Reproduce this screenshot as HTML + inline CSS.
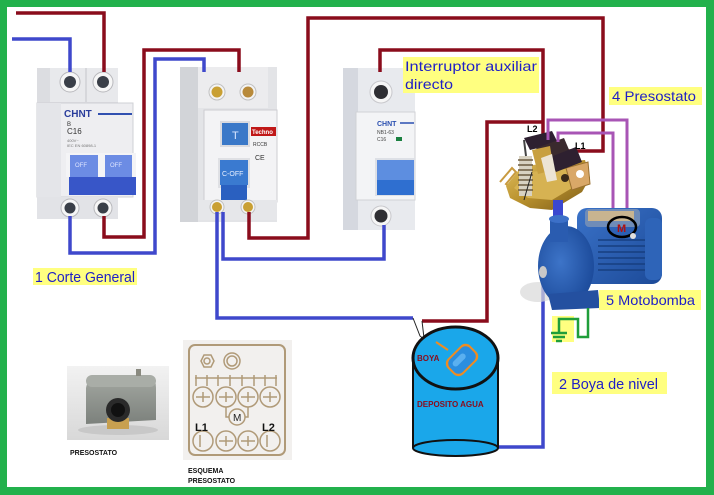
<!DOCTYPE html>
<html><head><meta charset="utf-8"><style>
html,body{margin:0;padding:0;background:#fff;}
svg{display:block;}
text{font-family:"Liberation Sans",sans-serif;}
</style></head><body>
<svg width="714" height="495" viewBox="0 0 714 495" xmlns="http://www.w3.org/2000/svg">
<defs>
<linearGradient id="pumpg" x1="0" y1="0" x2="1" y2="1"><stop offset="0" stop-color="#3a72c8"/><stop offset="1" stop-color="#1c4a98"/></linearGradient>
<radialGradient id="volg" cx="0.4" cy="0.45" r="0.6"><stop offset="0" stop-color="#3d74c8"/><stop offset="1" stop-color="#1d4c9c"/></radialGradient>
<linearGradient id="photog" x1="0" y1="0" x2="0" y2="1"><stop offset="0" stop-color="#f2f2f2"/><stop offset="1" stop-color="#d8d8d8"/></linearGradient>
<linearGradient id="boxg" x1="0" y1="0" x2="0" y2="1"><stop offset="0" stop-color="#a4a8a2"/><stop offset="1" stop-color="#7c817c"/></linearGradient>
<linearGradient id="brass" x1="0" y1="0" x2="1" y2="1"><stop offset="0" stop-color="#e2c060"/><stop offset="0.5" stop-color="#b8902c"/><stop offset="1" stop-color="#7a5a1a"/></linearGradient>
</defs>
<rect width="714" height="495" fill="#22b14c"/>
<rect x="7" y="7" width="699" height="480" fill="#ffffff"/>

<!-- ===== Breaker 1 (CHNT 2-pole) ===== -->
<g>
<rect x="37" y="68" width="81" height="36" fill="#dcdde1"/>
<rect x="50" y="68" width="68" height="34" fill="#e8e9ec"/>
<line x1="86" y1="68" x2="86" y2="102" stroke="#c4c5ca"/>
<circle cx="70" cy="82" r="10" fill="#f6f6f6" stroke="#b8b8bc"/><circle cx="70" cy="82" r="6" fill="#3a3f48"/>
<circle cx="103" cy="82" r="10" fill="#f6f6f6" stroke="#b8b8bc"/><circle cx="103" cy="82" r="6" fill="#3a3f48"/>
<rect x="37" y="103" width="96" height="94" fill="#eeeef1" stroke="#cfd0d5"/>
<rect x="37" y="103" width="24" height="94" fill="#e4e5e9"/>
<text x="64" y="117" font-size="10" font-weight="bold" fill="#2a3d9c">CHNT</text>
<line x1="98" y1="114" x2="132" y2="114" stroke="#3050b0" stroke-width="2"/>
<text x="67" y="126" font-size="6" fill="#333">B</text>
<text x="67" y="134" font-size="8" fill="#333">C16</text>
<text x="67" y="142" font-size="4" fill="#777">400V~</text>
<text x="67" y="147" font-size="4" fill="#777">IEC EN 60898-1</text>
<rect x="66" y="153" width="36" height="24" fill="#f4f4f6"/>
<rect x="101" y="153" width="35" height="24" fill="#f4f4f6"/>
<rect x="70" y="155" width="28" height="22" fill="#6c8ce4"/>
<rect x="105" y="155" width="27" height="22" fill="#6c8ce4"/>
<text x="75" y="167" font-size="6" fill="#dfe6ff">OFF</text>
<text x="110" y="167" font-size="6" fill="#dfe6ff">OFF</text>
<rect x="69" y="177" width="67" height="18" fill="#3856c8"/>
<rect x="37" y="197" width="81" height="22" fill="#e2e3e7"/>
<circle cx="70" cy="208" r="9" fill="#f6f6f6" stroke="#b8b8bc"/><circle cx="70" cy="208" r="5.5" fill="#3a3f48"/>
<circle cx="103" cy="208" r="9" fill="#f6f6f6" stroke="#b8b8bc"/><circle cx="103" cy="208" r="5.5" fill="#3a3f48"/>
</g>

<!-- ===== RCD ===== -->
<g>
<rect x="180" y="67" width="97" height="155" fill="#e3e4e7"/>
<rect x="180" y="67" width="18" height="155" fill="#d2d4d8"/>
<rect x="198" y="67" width="70" height="41" fill="#ececee"/>
<circle cx="217" cy="92" r="8" fill="#f4f4f4" stroke="#c0c0c0"/><circle cx="217" cy="92" r="5.5" fill="#c9a034"/>
<circle cx="248" cy="92" r="8" fill="#f4f4f4" stroke="#c0c0c0"/><circle cx="248" cy="92" r="5.5" fill="#b88a3a"/>
<rect x="204" y="110" width="73" height="92" fill="#f3f3f5" stroke="#cdcdd1"/>
<rect x="220" y="121" width="30" height="26" fill="#dadbe0"/>
<rect x="222" y="123" width="26" height="22" fill="#3a78c8"/>
<text x="232" y="139" font-size="11" fill="#d8e6ff">T</text>
<rect x="251" y="127" width="25" height="9" fill="#c01818"/>
<text x="252" y="134" font-size="6" font-weight="bold" fill="#fff">Techno</text>
<text x="253" y="146" font-size="5" fill="#333">RCCB</text>
<text x="255" y="160" font-size="7" fill="#333">CE</text>
<rect x="218" y="158" width="32" height="30" fill="#dfe0e4"/>
<rect x="220" y="160" width="28" height="25" fill="#3a7ad0"/>
<text x="222" y="176" font-size="7" fill="#e8f0ff">C-OFF</text>
<rect x="221" y="185" width="26" height="15" fill="#2a60c0"/>
<rect x="198" y="200" width="79" height="20" fill="#e6e7ea"/>
<circle cx="217" cy="207" r="7" fill="#f4f4f4" stroke="#c0c0c0"/><circle cx="217" cy="207" r="5" fill="#c9a034"/>
<circle cx="248" cy="207" r="7" fill="#f4f4f4" stroke="#c0c0c0"/><circle cx="248" cy="207" r="5" fill="#c9a034"/>
</g>

<!-- ===== Interruptor auxiliar (1-pole) ===== -->
<g>
<rect x="343" y="68" width="72" height="162" fill="#e8eaee"/>
<rect x="343" y="68" width="15" height="162" fill="#d5d8df"/>
<circle cx="381" cy="92" r="11" fill="#f6f6f6" stroke="#c8c8cc"/><circle cx="381" cy="92" r="7" fill="#2f2f33"/>
<rect x="356" y="112" width="59" height="88" fill="#f3f4f6" stroke="#d0d2d6"/>
<text x="377" y="126" font-size="7" font-weight="bold" fill="#2a4fb0">CHNT</text>
<line x1="400" y1="123" x2="414" y2="123" stroke="#2a4fb0" stroke-width="1.5"/>
<text x="377" y="134" font-size="5" fill="#444">NB1-63</text>
<text x="377" y="141" font-size="5" fill="#444">C16</text>
<rect x="396" y="137" width="6" height="4" fill="#1a8040"/>
<rect x="375" y="158" width="40" height="38" fill="#dde0e6"/>
<rect x="377" y="160" width="37" height="20" fill="#5d8ee0"/>
<rect x="377" y="180" width="37" height="15" fill="#2f6fd0"/>
<circle cx="381" cy="216" r="10" fill="#f6f6f6" stroke="#c8c8cc"/><circle cx="381" cy="216" r="6.5" fill="#2f2f33"/>
</g>

<!-- ===== Wires ===== -->
<g fill="none" stroke-linejoin="miter" stroke-linecap="butt">
<g stroke="#8a0c1c" stroke-width="3.5">
<path d="M16,13 H104 V72"/>
<path d="M104,216 V237 H144 V50 H239 V72"/>
<path d="M249,212 V238 H308 V18 H603 V151 H567"/>
<path d="M380,72 V50 H543 V135"/>
<path d="M543,122 H487 V321 H422"/>
</g>
<g stroke="#3f48cc" stroke-width="3.5">
<path d="M12,39 H70 V72"/>
<path d="M70,216 V253 H155 V59 H204 V72"/>
<path d="M217,212 V318 H413"/>
<path d="M223,212 V259 H384 V225"/>
<path d="M543,275 V447 H498"/>
</g>
<path d="M413,318 L420,336 L430,344" stroke="#222" stroke-width="1"/>
<path d="M422,321 L424,338 L436,342" stroke="#222" stroke-width="1"/>
</g>

<!-- ===== Presostato device ===== -->
<g>
<path d="M500,182 L512,168 L516,172 L506,184 L530,200" fill="none" stroke="#c89a40" stroke-width="2"/>
<polygon points="506,186 522,166 585,160 590,178 582,192 552,210 530,208 510,198" fill="url(#brass)"/>
<polygon points="514,188 528,172 578,168 582,182 552,200 528,198" fill="#d6b252"/>
<polygon points="566,168 588,162 590,184 572,190" fill="#d9a868" stroke="#9a7030"/>
<circle cx="580" cy="174" r="4" fill="#fff"/>
<rect x="519" y="156" width="13" height="40" fill="#d8d2c2"/>
<g stroke="#6a5a40" stroke-width="1.5"><line x1="518" y1="160" x2="533" y2="160"/><line x1="518" y1="165" x2="533" y2="165"/><line x1="518" y1="170" x2="533" y2="170"/><line x1="518" y1="175" x2="533" y2="175"/><line x1="518" y1="180" x2="533" y2="180"/><line x1="518" y1="185" x2="533" y2="185"/><line x1="518" y1="190" x2="533" y2="190"/></g>
<line x1="524" y1="140" x2="526" y2="156" stroke="#444" stroke-width="2"/>
<polygon points="524,138 552,131 558,143 530,150" fill="#2e2030"/>
<polygon points="536,148 564,138 570,152 542,160" fill="#3a2a2e"/>
<polygon points="548,158 576,147 582,162 556,172" fill="#2e2030"/>
<polygon points="532,150 550,146 554,170 538,174" fill="#c8a040"/>
<polygon points="541,158 552,154 557,180 547,182" fill="#ece4d4"/>
<circle cx="565" cy="178" r="4" fill="#3a2a1a"/>
<line x1="532" y1="172" x2="524" y2="200" stroke="#222" stroke-width="1"/>
<rect x="553" y="200" width="10" height="22" fill="#3a48d0"/>
</g>

<g fill="none" stroke="#a855b5" stroke-width="3">
<path d="M548,140 V120 H627 V220"/>
<path d="M558,142 V133 H613 V218"/>
</g>
<text x="527" y="132" font-size="9" font-weight="bold" fill="#000">L2</text>
<text x="575" y="149" font-size="9" font-weight="bold" fill="#000">L1</text>

<!-- ===== Pump ===== -->
<g>
<ellipse cx="538" cy="292" rx="18" ry="10" fill="#d8d8d8" opacity="0.7"/>
<rect x="577" y="208" width="85" height="76" rx="10" fill="url(#pumpg)"/>
<rect x="645" y="218" width="17" height="62" rx="6" fill="#2e64b8"/>
<rect x="585" y="209" width="55" height="18" rx="4" fill="#6f8cb8"/>
<rect x="588" y="211" width="46" height="10" fill="#c8b490"/>
<g stroke="#173f80" stroke-width="1.5">
<line x1="598" y1="240" x2="645" y2="240"/><line x1="598" y1="246" x2="645" y2="246"/><line x1="598" y1="252" x2="645" y2="252"/><line x1="598" y1="258" x2="645" y2="258"/><line x1="598" y1="264" x2="645" y2="264"/><line x1="598" y1="270" x2="645" y2="270"/>
</g>
<ellipse cx="566" cy="266" rx="28" ry="40" fill="url(#volg)"/>
<rect x="550" y="218" width="18" height="24" fill="#2a5cb0"/>
<ellipse cx="559" cy="219" rx="10" ry="4" fill="#3c70c8"/>
<polygon points="548,294 598,290 600,308 552,310" fill="#2450a0"/>
<ellipse cx="543" cy="272" rx="4" ry="6" fill="#c8c8c8"/>
<ellipse cx="622" cy="227" rx="14" ry="10" fill="none" stroke="#000" stroke-width="2.5"/>
<text x="617" y="232" font-size="11" font-weight="bold" fill="#b01010">M</text>
<circle cx="633" cy="236" r="3" fill="#e0e0e0"/>
</g>

<rect x="552" y="316" width="22" height="26" fill="#ffff80"/>
<g fill="none" stroke="#1f9e3a" stroke-width="2.5">
<path d="M588,308 V337 H578 V319 H559 V333"/>
<line x1="551" y1="333" x2="567" y2="333"/>
<line x1="553" y1="337" x2="565" y2="337"/>
<line x1="556" y1="341" x2="562" y2="341"/>
</g>

<!-- ===== Tank ===== -->
<g>
<rect x="413" y="358" width="85" height="90" fill="#1aa7ea"/>
<ellipse cx="455.5" cy="448" rx="42.5" ry="8" fill="#1aa7ea" stroke="#111" stroke-width="2"/>
<line x1="413" y1="358" x2="413" y2="448" stroke="#111" stroke-width="2"/>
<line x1="498" y1="358" x2="498" y2="448" stroke="#111" stroke-width="2"/>
<ellipse cx="455.5" cy="358" rx="42.5" ry="31" fill="#1aa7ea" stroke="#111" stroke-width="3"/>
<g transform="translate(462,360) rotate(-45)">
<rect x="-16" y="-11" width="32" height="22" rx="7" fill="#f08c20"/>
<rect x="-14" y="-9" width="28" height="18" rx="6" fill="#2a8ee0"/>
<rect x="-10" y="-5" width="16" height="6" rx="3" fill="#5ab0f0"/>
</g>
<path d="M436,342 L448,350" stroke="#f08c20" stroke-width="2"/>
<text x="417" y="361" font-size="8" font-weight="bold" fill="#8a0c1c">BOYA</text>
<text x="417" y="407" font-size="8" font-weight="bold" fill="#8a0c1c">DEPOSITO AGUA</text>
</g>

<!-- ===== Labels ===== -->
<g fill="#1e1ec8">
<rect x="33" y="268" width="104" height="17" fill="#ffff80"/>
<text x="35" y="282" font-size="15" textLength="100" lengthAdjust="spacingAndGlyphs">1 Corte General</text>
<rect x="403" y="57" width="136" height="36" fill="#ffff80"/>
<text x="405" y="71" font-size="14" textLength="132" lengthAdjust="spacingAndGlyphs">Interruptor auxiliar</text>
<text x="405" y="89" font-size="14" textLength="48" lengthAdjust="spacingAndGlyphs">directo</text>
<rect x="609" y="87" width="93" height="18" fill="#ffff80"/>
<text x="612" y="101" font-size="14" textLength="84" lengthAdjust="spacingAndGlyphs">4 Presostato</text>
<rect x="599" y="290" width="102" height="20" fill="#ffff80"/>
<text x="606" y="305" font-size="14" textLength="89" lengthAdjust="spacingAndGlyphs">5 Motobomba</text>
<rect x="552" y="372" width="115" height="22" fill="#ffff80"/>
<text x="559" y="389" font-size="15" textLength="99" lengthAdjust="spacingAndGlyphs">2 Boya de nivel</text>
</g>

<!-- ===== Presostato photo ===== -->
<g>
<rect x="67" y="366" width="102" height="74" fill="url(#photog)"/>
<ellipse cx="118" cy="430" rx="40" ry="5" fill="#c8c8c8"/>
<path d="M86,388 Q88,376 100,375 L148,375 Q156,376 156,388 L156,420 L86,424 Z" fill="url(#boxg)"/>
<rect x="86" y="375" width="70" height="12" rx="6" fill="#a9ada7"/>
<rect x="136" y="369" width="5" height="7" fill="#8a8a80"/>
<rect x="107" y="418" width="22" height="11" fill="#c8a050"/>
<circle cx="118" cy="410" r="12" fill="#2a2a2a"/>
<circle cx="118" cy="410" r="7" fill="#111"/>
<text x="70" y="455" font-size="7" font-weight="bold" fill="#111">PRESOSTATO</text>
</g>

<!-- ===== Esquema presostato ===== -->
<g>
<rect x="183" y="340" width="109" height="120" fill="#f2f0ee"/>
<rect x="189" y="345" width="96" height="110" rx="6" fill="none" stroke="#b09a78" stroke-width="2"/>
<g fill="none" stroke="#b09a78" stroke-width="1.5">
<polygon points="201,361 204,355 211,355 214,361 211,367 204,367"/>
<circle cx="207" cy="361" r="3"/>
<circle cx="232" cy="361" r="8"/><circle cx="232" cy="361" r="5"/>
<path d="M195,378 H277"/>
<path d="M196,375 V386 M207,375 V386 M218,375 V386 M230,375 V386 M242,375 V386 M254,375 V386 M265,375 V386 M276,375 V386"/>
<circle cx="203" cy="397" r="10"/><circle cx="226" cy="397" r="10"/><circle cx="248" cy="397" r="10"/><circle cx="270" cy="397" r="10"/>
<path d="M196,397 H210 M203,392 V402 M219,397 H233 M226,392 V402 M241,397 H255 M248,392 V402 M263,397 H277 M270,392 V402"/>
<circle cx="203" cy="441" r="10"/><circle cx="226" cy="441" r="10"/><circle cx="248" cy="441" r="10"/><circle cx="270" cy="441" r="10"/>
<path d="M219,441 H233 M226,436 V446 M241,441 H255 M248,436 V446 M200,435 V447 M267,435 V447"/>
<path d="M226,407 V417 H230 M248,407 V417 H244"/>
<circle cx="237" cy="417" r="8" fill="#f2f0ee"/>
</g>
<text x="233" y="421" font-size="10" fill="#222">M</text>
<text x="195" y="431" font-size="11" font-weight="bold" fill="#111">L1</text>
<text x="262" y="431" font-size="11" font-weight="bold" fill="#111">L2</text>
<text x="188" y="473" font-size="7" font-weight="bold" fill="#111">ESQUEMA</text>
<text x="188" y="483" font-size="7" font-weight="bold" fill="#111">PRESOSTATO</text>
</g>
</svg>
</body></html>
